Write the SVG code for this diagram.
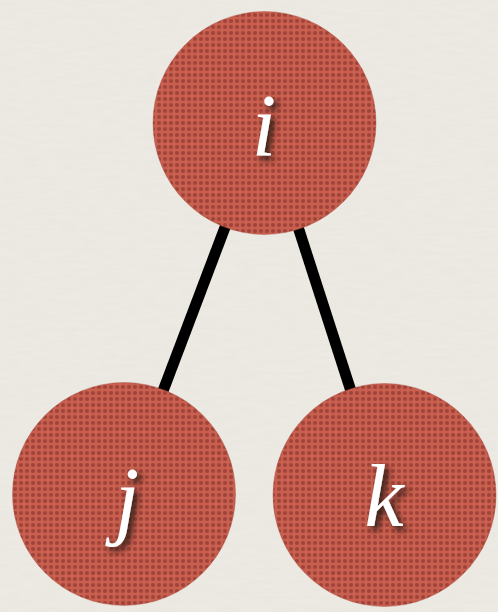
<svg xmlns="http://www.w3.org/2000/svg" width="498" height="612" viewBox="0 0 498 612">
<defs>
<pattern id="mesh" width="6" height="6" patternUnits="userSpaceOnUse">
<rect width="6" height="6" fill="#c9604f"/>
<circle cx="3" cy="3" r="2.1" fill="#a0433a"/>
</pattern>
<filter id="shadow" x="-50%" y="-50%" width="200%" height="200%">
<feGaussianBlur in="SourceAlpha" stdDeviation="3"/>
<feOffset dx="4" dy="4" result="b"/>
<feFlood flood-color="#2a1a16" flood-opacity="1"/>
<feComposite in2="b" operator="in" result="s"/>
<feMerge><feMergeNode in="s"/><feMergeNode in="SourceGraphic"/></feMerge>
</filter>
<filter id="paper" x="0" y="0" width="100%" height="100%">
<feTurbulence type="fractalNoise" baseFrequency="0.05 0.25" numOctaves="3" seed="3"/>
<feColorMatrix type="matrix" values="0 0 0 0 0.35  0 0 0 0 0.33  0 0 0 0 0.3  0 0 0 0.06 0"/>
<feComposite in2="SourceGraphic" operator="in"/>
</filter>
</defs>
<style>
.node{fill:url(#mesh);stroke:#a84a3f;stroke-width:1;stroke-opacity:0.4}
.lbl{font-family:"Liberation Serif","DejaVu Serif",serif;font-style:italic;font-size:88px;fill:#ffffff;text-anchor:middle;filter:url(#shadow)}
.edge{stroke:#000;stroke-width:11;fill:none}
</style>
<rect width="498" height="612" fill="#eeebe5"/>
<rect width="498" height="612" fill="#eeebe5" filter="url(#paper)"/>
<g id="edges">
<line class="edge" x1="264.5" y1="123" x2="124" y2="494"/>
<line class="edge" x1="264.5" y1="123" x2="384.5" y2="495"/>
</g>
<g id="node-i">
<circle class="node" cx="264.5" cy="123" r="111.5"/>
<text class="lbl" x="264" y="155">i</text>
</g>
<g id="node-j">
<circle class="node" cx="124" cy="494" r="111.5"/>
<text class="lbl" x="127" y="528">j</text>
</g>
<g id="node-k">
<circle class="node" cx="384.5" cy="495" r="111.5"/>
<text class="lbl" x="384" y="526">k</text>
</g>
</svg>
